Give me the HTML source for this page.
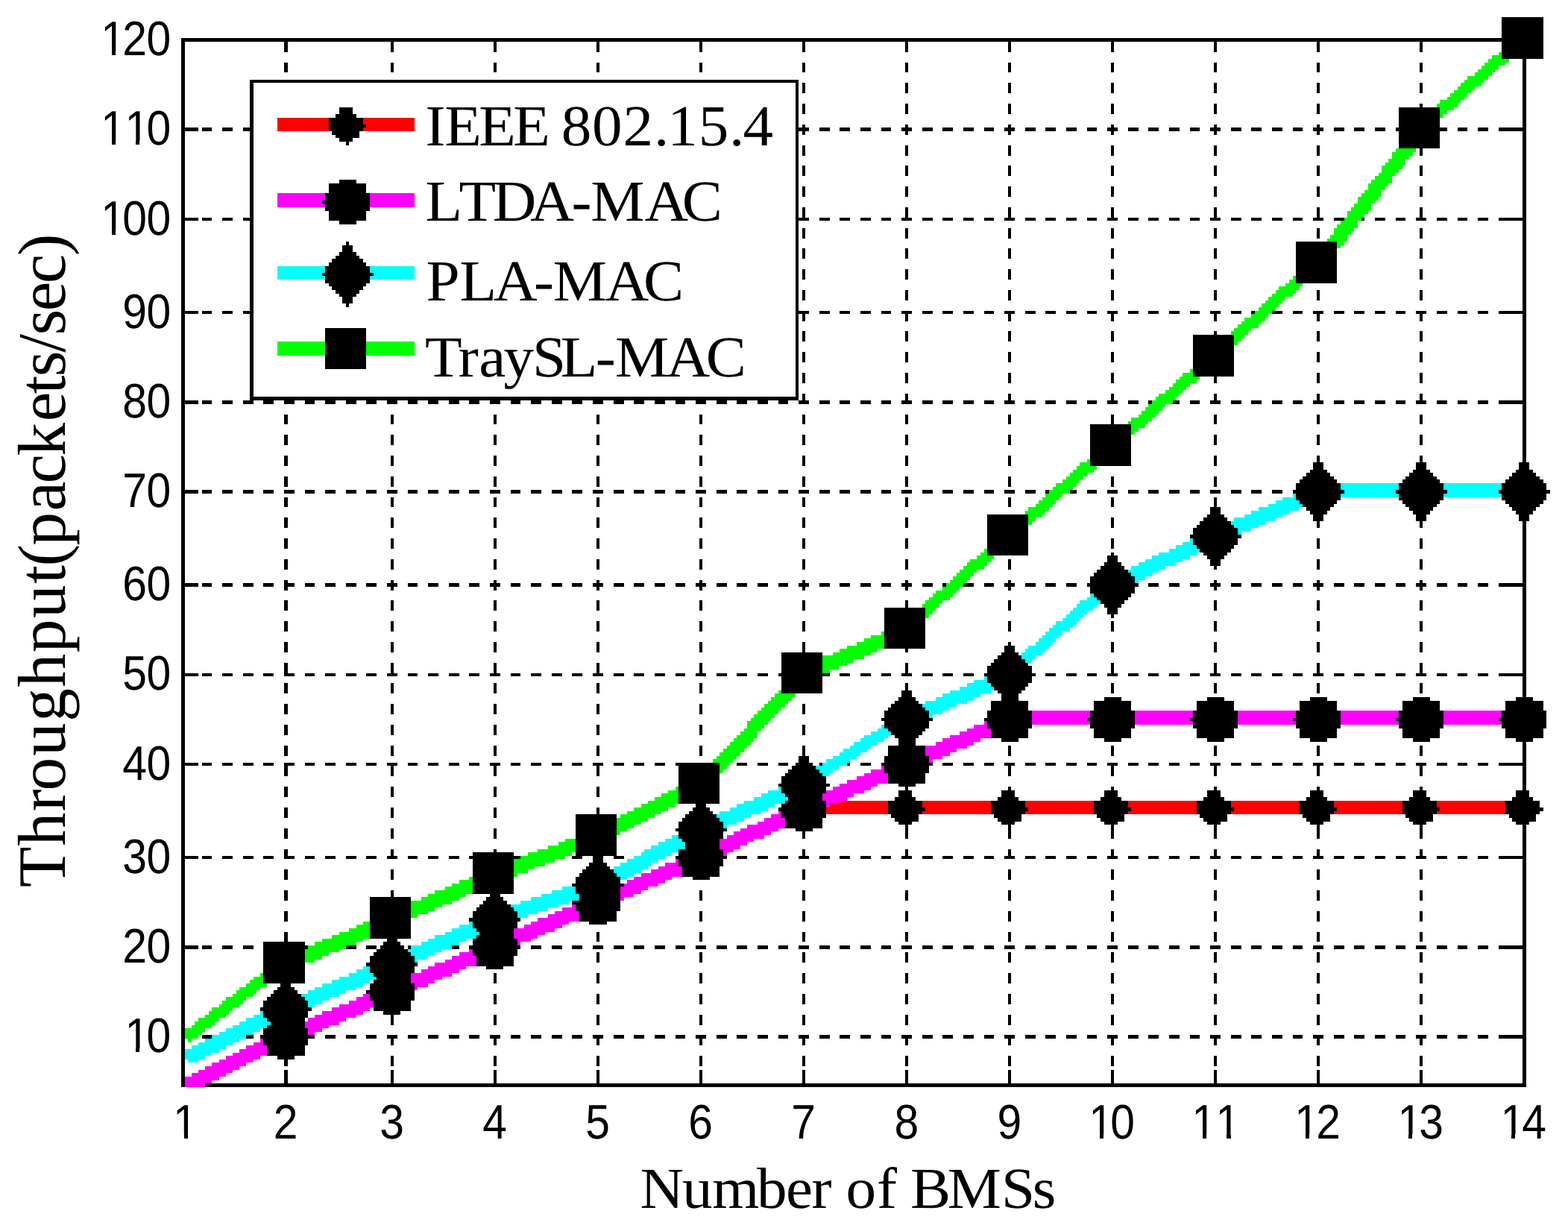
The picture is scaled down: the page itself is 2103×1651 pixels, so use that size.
<!DOCTYPE html>
<html lang="en">
<head>
<meta charset="utf-8">
<title>Throughput vs Number of BMSs</title>
<style>
html,body{margin:0;padding:0;background:#fff;}
body{width:2103px;height:1651px;overflow:hidden;}
svg{display:block;}
text{fill:#000;font-kerning:none;font-variant-ligatures:none;text-rendering:geometricPrecision;}
</style>
</head>
<body>
<svg width="2103" height="1651" viewBox="0 0 2103 1651">
<rect width="2103" height="1651" fill="#fff"/>
<g transform="matrix(4.6008 0 0 4.627 -0.84 0.29)" shape-rendering="crispEdges">
<path fill="#000" d="M438 5h12v6h-12zM53 11h397v1h-397zM53 12h1v25h-1zM83 12h1v3h-1zM114 12h1v3h-1zM144 12h1v3h-1zM174 12h1v3h-1zM204 12h1v3h-1zM234 12h1v3h-1zM264 12h1v3h-1zM294 12h1v3h-1zM324 12h1v3h-1zM354 12h1v3h-1zM384 12h1v3h-1zM414 12h1v3h-1zM438 12h12v5h-12zM444 17h1v20h-1zM83 18h1v3h-1zM114 18h1v3h-1zM144 18h1v3h-1zM174 18h1v3h-1zM204 18h1v3h-1zM234 18h1v3h-1zM264 18h1v3h-1zM294 18h1v3h-1zM324 18h1v3h-1zM354 18h1v3h-1zM384 18h1v3h-1zM414 18h1v3h-1zM73 23h160v1h-160zM73 24h1v13h-1zM232 24h1v13h-1zM234 24h1v3h-1zM264 24h1v3h-1zM294 24h1v3h-1zM324 24h1v3h-1zM354 24h1v3h-1zM384 24h1v3h-1zM414 24h1v3h-1zM234 30h1v3h-1zM264 30h1v3h-1zM294 30h1v3h-1zM324 30h1v3h-1zM354 30h1v3h-1zM384 30h1v3h-1zM414 30h1v1h-1zM99 31h4v2h-4zM408 31h12v6h-12zM98 33h6v1h-6zM96 34h10v2h-10zM96 36h11v1h-11zM234 36h1v1h-1zM264 36h1v1h-1zM294 36h1v1h-1zM324 36h1v1h-1zM354 36h1v1h-1zM384 36h1v1h-1zM53 37h5v1h-5zM59 37h3v1h-3zM65 37h3v1h-3zM71 37h3v1h-3zM96 37h10v1h-10zM232 37h4v1h-4zM239 37h3v1h-3zM245 37h3v1h-3zM251 37h3v1h-3zM257 37h3v1h-3zM263 37h3v1h-3zM269 37h3v1h-3zM275 37h3v1h-3zM281 37h3v1h-3zM287 37h3v1h-3zM293 37h3v1h-3zM299 37h3v1h-3zM305 37h3v1h-3zM311 37h3v1h-3zM317 37h3v1h-3zM323 37h3v1h-3zM329 37h3v1h-3zM335 37h3v1h-3zM341 37h3v1h-3zM347 37h3v1h-3zM353 37h3v1h-3zM359 37h3v1h-3zM365 37h3v1h-3zM371 37h3v1h-3zM377 37h3v1h-3zM383 37h3v1h-3zM389 37h3v1h-3zM395 37h3v1h-3zM401 37h3v1h-3zM407 37h15v1h-15zM425 37h3v1h-3zM431 37h3v1h-3zM437 37h8v1h-8zM53 38h1v25h-1zM73 38h1v25h-1zM97 38h8v1h-8zM232 38h1v25h-1zM234 38h1v1h-1zM264 38h1v1h-1zM294 38h1v1h-1zM324 38h1v1h-1zM354 38h1v1h-1zM384 38h1v1h-1zM408 38h12v5h-12zM444 38h1v25h-1zM98 39h7v1h-7zM99 40h4v1h-4zM101 41h1v1h-1zM234 42h1v3h-1zM264 42h1v3h-1zM294 42h1v3h-1zM324 42h1v3h-1zM354 42h1v3h-1zM384 42h1v3h-1zM414 43h1v2h-1zM234 48h1v3h-1zM264 48h1v3h-1zM294 48h1v3h-1zM324 48h1v3h-1zM354 48h1v3h-1zM384 48h1v3h-1zM414 48h1v3h-1zM99 52h5v1h-5zM96 53h11v3h-11zM234 54h1v3h-1zM264 54h1v3h-1zM294 54h1v3h-1zM324 54h1v3h-1zM354 54h1v3h-1zM384 54h1v3h-1zM414 54h1v3h-1zM95 56h13v2h-13zM94 58h14v1h-14zM95 59h13v2h-13zM234 60h1v3h-1zM264 60h1v3h-1zM294 60h1v3h-1zM324 60h1v3h-1zM354 60h1v3h-1zM384 60h1v3h-1zM414 60h1v3h-1zM96 61h11v3h-11zM53 63h5v1h-5zM59 63h3v1h-3zM65 63h3v1h-3zM71 63h3v1h-3zM232 63h4v1h-4zM239 63h3v1h-3zM245 63h3v1h-3zM251 63h3v1h-3zM257 63h3v1h-3zM263 63h3v1h-3zM269 63h3v1h-3zM275 63h3v1h-3zM281 63h3v1h-3zM287 63h3v1h-3zM293 63h3v1h-3zM299 63h3v1h-3zM305 63h3v1h-3zM311 63h3v1h-3zM317 63h3v1h-3zM323 63h3v1h-3zM329 63h3v1h-3zM335 63h3v1h-3zM341 63h3v1h-3zM347 63h3v1h-3zM353 63h3v1h-3zM359 63h3v1h-3zM365 63h3v1h-3zM371 63h3v1h-3zM377 63h3v1h-3zM383 63h3v1h-3zM389 63h3v1h-3zM397 63h1v1h-1zM401 63h3v1h-3zM407 63h3v1h-3zM413 63h3v1h-3zM419 63h3v1h-3zM425 63h3v1h-3zM431 63h3v1h-3zM437 63h8v1h-8zM53 64h1v26h-1zM73 64h1v26h-1zM99 64h5v1h-5zM232 64h1v26h-1zM444 64h1v26h-1zM234 66h1v3h-1zM264 66h1v3h-1zM294 66h1v3h-1zM324 66h1v3h-1zM354 66h1v3h-1zM384 66h1v3h-1zM414 66h1v3h-1zM101 70h1v1h-1zM378 70h12v12h-12zM100 71h3v2h-3zM234 72h1v3h-1zM264 72h1v3h-1zM294 72h1v3h-1zM324 72h1v3h-1zM354 72h1v3h-1zM414 72h1v3h-1zM99 73h5v1h-5zM98 74h7v1h-7zM97 75h9v1h-9zM96 76h11v1h-11zM95 77h13v2h-13zM234 78h1v3h-1zM264 78h1v3h-1zM294 78h1v3h-1zM324 78h1v3h-1zM354 78h1v3h-1zM414 78h1v3h-1zM94 79h15v1h-15zM95 80h13v2h-13zM96 82h11v1h-11zM97 83h9v1h-9zM98 84h7v1h-7zM234 84h1v3h-1zM264 84h1v3h-1zM294 84h1v3h-1zM324 84h1v3h-1zM354 84h1v3h-1zM384 84h1v3h-1zM414 84h1v3h-1zM99 85h5v1h-5zM100 86h3v2h-3zM101 88h1v1h-1zM53 90h5v1h-5zM59 90h3v1h-3zM65 90h3v1h-3zM71 90h3v1h-3zM232 90h4v1h-4zM239 90h3v1h-3zM245 90h3v1h-3zM251 90h3v1h-3zM257 90h3v1h-3zM263 90h3v1h-3zM269 90h3v1h-3zM275 90h3v1h-3zM281 90h3v1h-3zM287 90h3v1h-3zM293 90h3v1h-3zM299 90h3v1h-3zM305 90h3v1h-3zM311 90h3v1h-3zM317 90h3v1h-3zM323 90h3v1h-3zM329 90h3v1h-3zM335 90h3v1h-3zM341 90h3v1h-3zM347 90h3v1h-3zM353 90h3v1h-3zM359 90h3v1h-3zM365 90h1v1h-1zM371 90h3v1h-3zM377 90h3v1h-3zM383 90h3v1h-3zM389 90h3v1h-3zM395 90h3v1h-3zM401 90h3v1h-3zM407 90h3v1h-3zM413 90h3v1h-3zM419 90h3v1h-3zM425 90h3v1h-3zM431 90h3v1h-3zM437 90h8v1h-8zM53 91h1v25h-1zM73 91h1v24h-1zM232 91h1v24h-1zM234 91h1v2h-1zM264 91h1v2h-1zM294 91h1v2h-1zM324 91h1v2h-1zM354 91h1v2h-1zM384 91h1v2h-1zM414 91h1v2h-1zM444 91h1v25h-1zM95 95h12v12h-12zM234 96h1v3h-1zM264 96h1v3h-1zM294 96h1v3h-1zM324 96h1v3h-1zM354 96h1v1h-1zM384 96h1v3h-1zM414 96h1v3h-1zM348 97h12v12h-12zM234 102h1v3h-1zM264 102h1v3h-1zM294 102h1v3h-1zM324 102h1v3h-1zM384 102h1v3h-1zM414 102h1v3h-1zM234 108h1v3h-1zM264 108h1v3h-1zM294 108h1v3h-1zM324 108h1v3h-1zM384 108h1v3h-1zM414 108h1v3h-1zM354 109h1v2h-1zM234 114h1v2h-1zM264 114h1v2h-1zM294 114h1v2h-1zM324 114h1v2h-1zM354 114h1v2h-1zM384 114h1v2h-1zM414 114h1v2h-1zM73 115h160v1h-160zM53 116h5v1h-5zM59 116h3v1h-3zM65 116h3v1h-3zM71 116h3v1h-3zM77 116h3v1h-3zM83 116h3v1h-3zM89 116h3v1h-3zM95 116h3v1h-3zM101 116h3v1h-3zM107 116h3v1h-3zM113 116h3v1h-3zM119 116h3v1h-3zM125 116h3v1h-3zM131 116h3v1h-3zM137 116h3v1h-3zM143 116h3v1h-3zM149 116h3v1h-3zM155 116h3v1h-3zM161 116h3v1h-3zM167 116h3v1h-3zM173 116h3v1h-3zM179 116h3v1h-3zM185 116h3v1h-3zM191 116h3v1h-3zM197 116h3v1h-3zM203 116h3v1h-3zM209 116h3v1h-3zM215 116h3v1h-3zM221 116h3v1h-3zM227 116h3v1h-3zM233 116h3v1h-3zM239 116h3v1h-3zM245 116h3v1h-3zM251 116h3v1h-3zM257 116h3v1h-3zM263 116h3v1h-3zM269 116h3v1h-3zM275 116h3v1h-3zM281 116h3v1h-3zM287 116h3v1h-3zM293 116h3v1h-3zM299 116h3v1h-3zM305 116h3v1h-3zM311 116h3v1h-3zM317 116h3v1h-3zM323 116h3v1h-3zM329 116h3v1h-3zM335 116h1v1h-1zM342 116h2v1h-2zM347 116h3v1h-3zM353 116h3v1h-3zM359 116h3v1h-3zM365 116h3v1h-3zM371 116h3v1h-3zM377 116h3v1h-3zM383 116h3v1h-3zM389 116h3v1h-3zM395 116h3v1h-3zM401 116h3v1h-3zM407 116h3v1h-3zM413 116h3v1h-3zM419 116h3v1h-3zM425 116h3v1h-3zM431 116h3v1h-3zM437 116h8v1h-8zM53 117h1v25h-1zM444 117h1v17h-1zM83 120h1v3h-1zM114 120h1v3h-1zM144 120h1v3h-1zM174 120h1v3h-1zM204 120h1v3h-1zM234 120h1v3h-1zM264 120h1v3h-1zM294 120h1v3h-1zM324 120h1v3h-1zM354 120h1v3h-1zM384 120h1v3h-1zM414 120h1v3h-1zM318 123h12v12h-12zM83 126h1v3h-1zM114 126h1v3h-1zM144 126h1v3h-1zM174 126h1v3h-1zM204 126h1v3h-1zM234 126h1v3h-1zM264 126h1v3h-1zM294 126h1v3h-1zM354 126h1v3h-1zM384 126h1v3h-1zM414 126h1v3h-1zM83 132h1v3h-1zM114 132h1v3h-1zM144 132h1v3h-1zM174 132h1v3h-1zM204 132h1v3h-1zM234 132h1v3h-1zM264 132h1v3h-1zM294 132h1v3h-1zM354 132h1v3h-1zM384 132h1v2h-1zM414 132h1v2h-1zM383 134h3v2h-3zM413 134h3v2h-3zM443 134h3v2h-3zM382 136h5v1h-5zM412 136h5v1h-5zM442 136h5v1h-5zM381 137h7v1h-7zM411 137h7v1h-7zM441 137h7v1h-7zM83 138h1v3h-1zM114 138h1v3h-1zM144 138h1v3h-1zM174 138h1v3h-1zM204 138h1v3h-1zM234 138h1v3h-1zM264 138h1v3h-1zM294 138h1v3h-1zM324 138h1v3h-1zM354 138h1v3h-1zM380 138h9v1h-9zM410 138h9v1h-9zM440 138h9v1h-9zM379 139h11v1h-11zM409 139h11v1h-11zM439 139h11v1h-11zM378 140h13v2h-13zM408 140h13v2h-13zM438 140h13v2h-13zM53 142h5v1h-5zM59 142h3v1h-3zM65 142h3v1h-3zM71 142h3v1h-3zM77 142h3v1h-3zM83 142h3v1h-3zM89 142h3v1h-3zM95 142h3v1h-3zM101 142h3v1h-3zM107 142h3v1h-3zM113 142h3v1h-3zM119 142h3v1h-3zM125 142h3v1h-3zM131 142h3v1h-3zM137 142h3v1h-3zM143 142h3v1h-3zM149 142h3v1h-3zM155 142h3v1h-3zM161 142h3v1h-3zM167 142h3v1h-3zM173 142h3v1h-3zM179 142h3v1h-3zM185 142h3v1h-3zM191 142h3v1h-3zM197 142h3v1h-3zM203 142h3v1h-3zM209 142h3v1h-3zM215 142h3v1h-3zM221 142h3v1h-3zM227 142h3v1h-3zM233 142h3v1h-3zM239 142h3v1h-3zM245 142h3v1h-3zM251 142h3v1h-3zM257 142h3v1h-3zM263 142h3v1h-3zM269 142h3v1h-3zM275 142h3v1h-3zM281 142h3v1h-3zM287 142h3v1h-3zM293 142h3v1h-3zM299 142h3v1h-3zM305 142h1v1h-1zM312 142h2v1h-2zM317 142h3v1h-3zM323 142h3v1h-3zM329 142h3v1h-3zM335 142h3v1h-3zM341 142h3v1h-3zM347 142h3v1h-3zM353 142h3v1h-3zM359 142h3v1h-3zM365 142h3v1h-3zM371 142h3v1h-3zM377 142h15v1h-15zM407 142h15v1h-15zM437 142h15v1h-15zM53 143h1v26h-1zM378 143h13v2h-13zM408 143h13v2h-13zM438 143h13v2h-13zM83 144h1v3h-1zM114 144h1v3h-1zM144 144h1v3h-1zM174 144h1v3h-1zM204 144h1v3h-1zM234 144h1v3h-1zM264 144h1v3h-1zM294 144h1v3h-1zM324 144h1v3h-1zM354 144h1v3h-1zM379 145h11v1h-11zM409 145h11v1h-11zM439 145h11v1h-11zM380 146h9v1h-9zM410 146h9v1h-9zM440 146h9v1h-9zM353 147h3v2h-3zM381 147h7v1h-7zM411 147h7v1h-7zM441 147h7v1h-7zM382 148h5v1h-5zM412 148h5v1h-5zM442 148h5v1h-5zM288 149h12v12h-12zM352 149h5v1h-5zM383 149h3v2h-3zM413 149h3v2h-3zM443 149h3v2h-3zM83 150h1v3h-1zM114 150h1v3h-1zM144 150h1v3h-1zM174 150h1v3h-1zM204 150h1v3h-1zM234 150h1v3h-1zM264 150h1v3h-1zM324 150h1v3h-1zM351 150h7v1h-7zM350 151h9v1h-9zM384 151h1v2h-1zM414 151h1v2h-1zM444 151h1v18h-1zM349 152h11v1h-11zM348 153h13v2h-13zM347 155h15v1h-15zM83 156h1v3h-1zM114 156h1v3h-1zM144 156h1v3h-1zM174 156h1v3h-1zM204 156h1v3h-1zM234 156h1v3h-1zM264 156h1v3h-1zM324 156h1v3h-1zM348 156h13v2h-13zM384 156h1v3h-1zM414 156h1v3h-1zM349 158h11v1h-11zM350 159h9v1h-9zM324 160h1v1h-1zM351 160h7v1h-7zM323 161h3v2h-3zM352 161h5v1h-5zM83 162h1v3h-1zM114 162h1v3h-1zM144 162h1v3h-1zM174 162h1v3h-1zM204 162h1v3h-1zM234 162h1v3h-1zM264 162h1v3h-1zM294 162h1v3h-1zM353 162h3v2h-3zM384 162h1v3h-1zM414 162h1v3h-1zM322 163h5v1h-5zM321 164h7v1h-7zM354 164h1v1h-1zM320 165h9v1h-9zM319 166h11v1h-11zM318 167h13v2h-13zM83 168h1v1h-1zM114 168h1v1h-1zM144 168h1v1h-1zM174 168h1v1h-1zM204 168h1v1h-1zM234 168h1v1h-1zM264 168h1v1h-1zM294 168h1v1h-1zM354 168h1v1h-1zM384 168h1v1h-1zM414 168h1v1h-1zM53 169h5v1h-5zM59 169h3v1h-3zM65 169h3v1h-3zM71 169h3v1h-3zM77 169h3v1h-3zM83 169h3v1h-3zM89 169h3v1h-3zM95 169h3v1h-3zM101 169h3v1h-3zM107 169h3v1h-3zM113 169h3v1h-3zM119 169h3v1h-3zM125 169h3v1h-3zM131 169h3v1h-3zM137 169h3v1h-3zM143 169h3v1h-3zM149 169h3v1h-3zM155 169h3v1h-3zM161 169h3v1h-3zM167 169h3v1h-3zM173 169h3v1h-3zM179 169h3v1h-3zM185 169h3v1h-3zM191 169h3v1h-3zM197 169h3v1h-3zM203 169h3v1h-3zM209 169h3v1h-3zM215 169h3v1h-3zM221 169h3v1h-3zM227 169h3v1h-3zM233 169h3v1h-3zM239 169h3v1h-3zM245 169h3v1h-3zM251 169h3v1h-3zM257 169h3v1h-3zM263 169h3v1h-3zM269 169h3v1h-3zM275 169h1v1h-1zM281 169h3v1h-3zM287 169h3v1h-3zM293 169h3v1h-3zM299 169h3v1h-3zM305 169h3v1h-3zM311 169h3v1h-3zM317 169h15v1h-15zM335 169h3v1h-3zM341 169h3v1h-3zM347 169h3v1h-3zM353 169h3v1h-3zM359 169h3v1h-3zM365 169h3v1h-3zM371 169h3v1h-3zM377 169h3v1h-3zM383 169h3v1h-3zM389 169h3v1h-3zM395 169h3v1h-3zM401 169h3v1h-3zM407 169h3v1h-3zM413 169h3v1h-3zM419 169h3v1h-3zM425 169h3v1h-3zM431 169h3v1h-3zM437 169h8v1h-8zM53 170h1v25h-1zM83 170h1v1h-1zM114 170h1v1h-1zM144 170h1v1h-1zM174 170h1v1h-1zM204 170h1v1h-1zM234 170h1v1h-1zM264 170h1v1h-1zM294 170h1v1h-1zM318 170h13v2h-13zM354 170h1v1h-1zM384 170h1v1h-1zM414 170h1v1h-1zM444 170h1v25h-1zM319 172h11v1h-11zM320 173h9v1h-9zM83 174h1v3h-1zM114 174h1v3h-1zM144 174h1v3h-1zM174 174h1v3h-1zM204 174h1v3h-1zM234 174h1v3h-1zM264 174h1v2h-1zM294 174h1v3h-1zM321 174h7v1h-7zM354 174h1v3h-1zM384 174h1v3h-1zM414 174h1v3h-1zM322 175h5v1h-5zM258 176h12v12h-12zM323 176h3v2h-3zM324 178h1v1h-1zM83 180h1v3h-1zM114 180h1v3h-1zM144 180h1v3h-1zM174 180h1v3h-1zM204 180h1v3h-1zM234 180h1v3h-1zM294 180h1v3h-1zM324 180h1v3h-1zM354 180h1v3h-1zM384 180h1v3h-1zM414 180h1v3h-1zM83 186h1v3h-1zM114 186h1v3h-1zM144 186h1v3h-1zM174 186h1v3h-1zM204 186h1v3h-1zM234 186h1v3h-1zM294 186h1v1h-1zM324 186h1v3h-1zM354 186h1v3h-1zM384 186h1v3h-1zM414 186h1v3h-1zM293 187h3v2h-3zM264 188h1v1h-1zM228 189h12v6h-12zM292 189h5v1h-5zM291 190h7v1h-7zM290 191h9v1h-9zM83 192h1v3h-1zM114 192h1v3h-1zM144 192h1v3h-1zM174 192h1v3h-1zM204 192h1v3h-1zM264 192h1v3h-1zM289 192h11v1h-11zM324 192h1v3h-1zM354 192h1v3h-1zM384 192h1v3h-1zM414 192h1v3h-1zM288 193h13v2h-13zM53 195h5v1h-5zM59 195h3v1h-3zM65 195h3v1h-3zM71 195h3v1h-3zM77 195h3v1h-3zM83 195h3v1h-3zM89 195h3v1h-3zM95 195h3v1h-3zM101 195h3v1h-3zM107 195h3v1h-3zM113 195h3v1h-3zM119 195h3v1h-3zM125 195h3v1h-3zM131 195h3v1h-3zM137 195h3v1h-3zM143 195h3v1h-3zM149 195h3v1h-3zM155 195h3v1h-3zM161 195h3v1h-3zM167 195h3v1h-3zM173 195h3v1h-3zM179 195h3v1h-3zM185 195h3v1h-3zM191 195h3v1h-3zM197 195h3v1h-3zM203 195h3v1h-3zM209 195h3v1h-3zM215 195h3v1h-3zM221 195h3v1h-3zM227 195h15v1h-15zM245 195h3v1h-3zM251 195h3v1h-3zM257 195h3v1h-3zM263 195h3v1h-3zM269 195h3v1h-3zM275 195h3v1h-3zM281 195h3v1h-3zM287 195h15v1h-15zM305 195h3v1h-3zM311 195h3v1h-3zM317 195h3v1h-3zM323 195h3v1h-3zM329 195h3v1h-3zM335 195h3v1h-3zM341 195h3v1h-3zM347 195h3v1h-3zM353 195h3v1h-3zM359 195h3v1h-3zM365 195h3v1h-3zM371 195h3v1h-3zM377 195h3v1h-3zM383 195h3v1h-3zM389 195h3v1h-3zM395 195h3v1h-3zM401 195h3v1h-3zM407 195h3v1h-3zM413 195h3v1h-3zM419 195h3v1h-3zM425 195h3v1h-3zM431 195h3v1h-3zM437 195h8v1h-8zM53 196h1v25h-1zM228 196h12v5h-12zM288 196h13v2h-13zM444 196h1v6h-1zM83 198h1v3h-1zM114 198h1v3h-1zM144 198h1v3h-1zM174 198h1v3h-1zM204 198h1v3h-1zM264 198h1v2h-1zM289 198h11v1h-11zM324 198h1v3h-1zM354 198h1v3h-1zM384 198h1v3h-1zM414 198h1v3h-1zM290 199h9v1h-9zM263 200h3v2h-3zM291 200h7v1h-7zM292 201h5v2h-5zM262 202h5v1h-5zM322 202h5v1h-5zM352 202h5v1h-5zM382 202h5v1h-5zM412 202h5v1h-5zM442 202h5v1h-5zM261 203h7v1h-7zM289 203h11v3h-11zM319 203h11v3h-11zM349 203h11v3h-11zM379 203h11v3h-11zM409 203h11v3h-11zM439 203h11v3h-11zM83 204h1v3h-1zM114 204h1v3h-1zM144 204h1v3h-1zM174 204h1v3h-1zM204 204h1v3h-1zM234 204h1v3h-1zM260 204h9v1h-9zM259 205h11v1h-11zM258 206h13v2h-13zM288 206h13v2h-13zM318 206h13v2h-13zM348 206h13v2h-13zM378 206h13v2h-13zM408 206h13v2h-13zM438 206h13v2h-13zM257 208h15v1h-15zM287 208h14v1h-14zM317 208h14v1h-14zM347 208h14v1h-14zM377 208h14v1h-14zM407 208h14v1h-14zM437 208h14v1h-14zM258 209h13v2h-13zM288 209h13v2h-13zM318 209h13v2h-13zM348 209h13v2h-13zM378 209h13v2h-13zM408 209h13v2h-13zM438 209h13v2h-13zM83 210h1v3h-1zM114 210h1v3h-1zM144 210h1v3h-1zM174 210h1v3h-1zM204 210h1v3h-1zM234 210h1v3h-1zM259 211h11v1h-11zM289 211h11v3h-11zM319 211h11v3h-11zM349 211h11v3h-11zM379 211h11v3h-11zM409 211h11v3h-11zM439 211h11v3h-11zM260 212h9v1h-9zM261 213h7v1h-7zM262 214h5v2h-5zM292 214h5v1h-5zM322 214h5v1h-5zM352 214h5v1h-5zM382 214h5v1h-5zM412 214h5v1h-5zM442 214h5v1h-5zM444 215h1v6h-1zM83 216h1v3h-1zM114 216h1v3h-1zM144 216h1v3h-1zM174 216h1v3h-1zM204 216h1v3h-1zM234 216h1v3h-1zM259 216h11v3h-11zM294 216h1v3h-1zM324 216h1v3h-1zM354 216h1v3h-1zM384 216h1v3h-1zM414 216h1v3h-1zM233 219h3v2h-3zM258 219h13v2h-13zM53 221h5v1h-5zM59 221h3v1h-3zM65 221h3v1h-3zM71 221h3v1h-3zM77 221h3v1h-3zM83 221h3v1h-3zM89 221h3v1h-3zM95 221h3v1h-3zM101 221h3v1h-3zM107 221h3v1h-3zM113 221h3v1h-3zM119 221h3v1h-3zM125 221h3v1h-3zM131 221h3v1h-3zM137 221h3v1h-3zM143 221h3v1h-3zM149 221h3v1h-3zM155 221h3v1h-3zM161 221h3v1h-3zM167 221h3v1h-3zM173 221h3v1h-3zM179 221h3v1h-3zM185 221h3v1h-3zM191 221h3v1h-3zM197 221h13v1h-13zM215 221h3v1h-3zM221 221h3v1h-3zM227 221h3v1h-3zM232 221h5v1h-5zM239 221h1v1h-1zM247 221h1v1h-1zM251 221h3v1h-3zM257 221h15v1h-15zM275 221h3v1h-3zM281 221h3v1h-3zM287 221h3v1h-3zM293 221h3v1h-3zM299 221h3v1h-3zM305 221h3v1h-3zM311 221h3v1h-3zM317 221h3v1h-3zM323 221h3v1h-3zM329 221h3v1h-3zM335 221h3v1h-3zM341 221h3v1h-3zM347 221h3v1h-3zM353 221h3v1h-3zM359 221h3v1h-3zM365 221h3v1h-3zM371 221h3v1h-3zM377 221h3v1h-3zM383 221h3v1h-3zM389 221h3v1h-3zM395 221h3v1h-3zM401 221h3v1h-3zM407 221h3v1h-3zM413 221h3v1h-3zM419 221h3v1h-3zM425 221h3v1h-3zM431 221h3v1h-3zM437 221h8v1h-8zM53 222h1v26h-1zM83 222h1v3h-1zM114 222h1v3h-1zM144 222h1v3h-1zM174 222h1v3h-1zM198 222h12v11h-12zM231 222h7v1h-7zM258 222h13v2h-13zM294 222h1v3h-1zM324 222h1v3h-1zM354 222h1v3h-1zM384 222h1v3h-1zM414 222h1v3h-1zM444 222h1v7h-1zM230 223h9v1h-9zM229 224h11v1h-11zM259 224h11v3h-11zM228 225h13v2h-13zM227 227h15v1h-15zM262 227h5v1h-5zM83 228h1v3h-1zM114 228h1v3h-1zM144 228h1v3h-1zM174 228h1v3h-1zM228 228h13v2h-13zM264 228h1v1h-1zM294 228h1v1h-1zM324 228h1v1h-1zM354 228h1v1h-1zM384 228h1v1h-1zM414 228h1v1h-1zM262 229h4v2h-4zM292 229h4v2h-4zM322 229h4v2h-4zM352 229h4v2h-4zM382 229h4v2h-4zM412 229h4v2h-4zM442 229h4v2h-4zM229 230h11v1h-11zM230 231h10v1h-10zM261 231h6v1h-6zM291 231h6v1h-6zM321 231h6v1h-6zM351 231h6v1h-6zM381 231h6v1h-6zM411 231h6v1h-6zM441 231h6v1h-6zM229 232h12v1h-12zM259 232h10v2h-10zM289 232h10v2h-10zM319 232h10v2h-10zM349 232h10v2h-10zM379 232h10v2h-10zM409 232h10v2h-10zM439 232h10v2h-10zM203 233h3v1h-3zM228 233h13v1h-13zM83 234h1v3h-1zM114 234h1v3h-1zM144 234h1v3h-1zM174 234h1v2h-1zM202 234h5v1h-5zM227 234h14v1h-14zM259 234h11v1h-11zM289 234h11v1h-11zM319 234h11v1h-11zM349 234h11v1h-11zM379 234h11v1h-11zM409 234h11v1h-11zM439 234h11v1h-11zM201 235h7v1h-7zM228 235h13v2h-13zM259 235h10v1h-10zM289 235h10v1h-10zM319 235h10v1h-10zM349 235h10v1h-10zM379 235h10v1h-10zM409 235h10v1h-10zM439 235h10v1h-10zM168 236h12v12h-12zM200 236h9v1h-9zM260 236h8v1h-8zM290 236h8v1h-8zM320 236h8v1h-8zM350 236h8v1h-8zM380 236h8v1h-8zM410 236h8v1h-8zM440 236h8v1h-8zM199 237h11v1h-11zM229 237h11v3h-11zM261 237h7v1h-7zM291 237h7v1h-7zM321 237h7v1h-7zM351 237h7v1h-7zM381 237h7v1h-7zM411 237h7v1h-7zM441 237h7v1h-7zM198 238h13v2h-13zM262 238h4v1h-4zM292 238h4v1h-4zM322 238h4v1h-4zM352 238h4v1h-4zM382 238h4v1h-4zM412 238h4v1h-4zM442 238h4v1h-4zM264 239h1v4h-1zM294 239h1v4h-1zM324 239h1v4h-1zM354 239h1v4h-1zM384 239h1v4h-1zM414 239h1v4h-1zM444 239h1v9h-1zM83 240h1v3h-1zM114 240h1v3h-1zM144 240h1v3h-1zM197 240h15v1h-15zM232 240h5v1h-5zM198 241h13v2h-13zM234 241h1v2h-1zM199 243h11v1h-11zM200 244h10v2h-10zM83 246h1v2h-1zM114 246h1v2h-1zM144 246h1v1h-1zM198 246h13v2h-13zM234 246h1v2h-1zM264 246h1v2h-1zM294 246h1v2h-1zM324 246h1v2h-1zM354 246h1v2h-1zM384 246h1v2h-1zM414 246h1v2h-1zM138 247h12v1h-12zM53 248h5v1h-5zM59 248h3v1h-3zM65 248h3v1h-3zM71 248h3v1h-3zM77 248h3v1h-3zM83 248h3v1h-3zM89 248h3v1h-3zM95 248h3v1h-3zM101 248h3v1h-3zM107 248h3v1h-3zM113 248h3v1h-3zM119 248h3v1h-3zM125 248h3v1h-3zM131 248h3v1h-3zM137 248h15v1h-15zM167 248h3v1h-3zM173 248h3v2h-3zM179 248h3v1h-3zM197 248h15v1h-15zM215 248h3v1h-3zM221 248h3v1h-3zM227 248h3v1h-3zM233 248h3v1h-3zM239 248h3v1h-3zM245 248h3v1h-3zM251 248h3v1h-3zM257 248h3v1h-3zM263 248h3v1h-3zM269 248h3v1h-3zM275 248h3v1h-3zM281 248h3v1h-3zM287 248h3v1h-3zM293 248h3v1h-3zM299 248h3v1h-3zM305 248h3v1h-3zM311 248h3v1h-3zM317 248h3v1h-3zM323 248h3v1h-3zM329 248h3v1h-3zM335 248h3v1h-3zM341 248h3v1h-3zM347 248h3v1h-3zM353 248h3v1h-3zM359 248h3v1h-3zM365 248h3v1h-3zM371 248h3v1h-3zM377 248h3v1h-3zM383 248h3v1h-3zM389 248h3v1h-3zM395 248h3v1h-3zM401 248h3v1h-3zM407 248h3v1h-3zM413 248h3v1h-3zM419 248h3v1h-3zM425 248h3v1h-3zM431 248h3v1h-3zM437 248h8v1h-8zM53 249h1v25h-1zM138 249h12v10h-12zM198 249h13v2h-13zM444 249h1v25h-1zM172 250h5v1h-5zM171 251h7v1h-7zM199 251h11v3h-11zM83 252h1v3h-1zM114 252h1v3h-1zM170 252h9v1h-9zM234 252h1v3h-1zM264 252h1v3h-1zM294 252h1v3h-1zM324 252h1v3h-1zM354 252h1v3h-1zM384 252h1v3h-1zM414 252h1v3h-1zM169 253h11v1h-11zM168 254h13v2h-13zM202 254h5v1h-5zM167 256h15v1h-15zM168 257h13v2h-13zM83 258h1v3h-1zM114 258h1v2h-1zM204 258h1v3h-1zM234 258h1v3h-1zM264 258h1v3h-1zM294 258h1v3h-1zM324 258h1v3h-1zM354 258h1v3h-1zM384 258h1v3h-1zM414 258h1v3h-1zM143 259h3v1h-3zM169 259h12v2h-12zM108 260h12v12h-12zM142 260h5v1h-5zM141 261h7v1h-7zM167 261h14v1h-14zM140 262h9v1h-9zM168 262h13v2h-13zM139 263h11v1h-11zM83 264h1v3h-1zM138 264h13v2h-13zM169 264h11v3h-11zM204 264h1v3h-1zM234 264h1v3h-1zM264 264h1v3h-1zM294 264h1v3h-1zM324 264h1v3h-1zM354 264h1v3h-1zM384 264h1v3h-1zM414 264h1v3h-1zM137 266h15v1h-15zM138 267h13v2h-13zM172 267h5v1h-5zM139 269h11v1h-11zM83 270h1v3h-1zM140 270h10v1h-10zM174 270h1v3h-1zM204 270h1v3h-1zM234 270h1v3h-1zM264 270h1v3h-1zM294 270h1v3h-1zM324 270h1v3h-1zM354 270h1v3h-1zM384 270h1v3h-1zM414 270h1v3h-1zM139 271h11v1h-11zM113 272h3v1h-3zM138 272h13v2h-13zM77 273h12v1h-12zM112 273h5v1h-5zM53 274h5v1h-5zM59 274h3v1h-3zM65 274h3v1h-3zM71 274h3v1h-3zM77 274h13v1h-13zM101 274h3v1h-3zM107 274h3v1h-3zM111 274h7v1h-7zM119 274h1v1h-1zM132 274h2v1h-2zM137 274h15v1h-15zM155 274h3v1h-3zM161 274h3v1h-3zM167 274h3v1h-3zM173 274h3v1h-3zM179 274h3v1h-3zM185 274h3v1h-3zM191 274h3v1h-3zM197 274h3v1h-3zM203 274h3v1h-3zM209 274h3v1h-3zM215 274h3v1h-3zM221 274h3v1h-3zM227 274h3v1h-3zM233 274h3v1h-3zM239 274h3v1h-3zM245 274h3v1h-3zM251 274h3v1h-3zM257 274h3v1h-3zM263 274h3v1h-3zM269 274h3v1h-3zM275 274h3v1h-3zM281 274h3v1h-3zM287 274h3v1h-3zM293 274h3v1h-3zM299 274h3v1h-3zM305 274h3v1h-3zM311 274h3v1h-3zM317 274h3v1h-3zM323 274h3v1h-3zM329 274h3v1h-3zM335 274h3v1h-3zM341 274h3v1h-3zM347 274h3v1h-3zM353 274h3v1h-3zM359 274h3v1h-3zM365 274h3v1h-3zM371 274h3v1h-3zM377 274h3v1h-3zM383 274h3v1h-3zM389 274h3v1h-3zM395 274h3v1h-3zM401 274h3v1h-3zM407 274h3v1h-3zM413 274h3v1h-3zM419 274h3v1h-3zM425 274h3v1h-3zM431 274h3v1h-3zM437 274h8v1h-8zM53 275h1v40h-1zM77 275h12v10h-12zM110 275h9v1h-9zM138 275h13v2h-13zM444 275h1v25h-1zM109 276h11v1h-11zM174 276h1v3h-1zM204 276h1v3h-1zM234 276h1v3h-1zM264 276h1v3h-1zM294 276h1v3h-1zM324 276h1v3h-1zM354 276h1v3h-1zM384 276h1v3h-1zM414 276h1v3h-1zM108 277h13v2h-13zM139 277h11v3h-11zM107 279h15v1h-15zM108 280h13v2h-13zM142 280h5v1h-5zM109 282h11v1h-11zM144 282h1v3h-1zM174 282h1v3h-1zM204 282h1v3h-1zM234 282h1v3h-1zM264 282h1v3h-1zM294 282h1v3h-1zM324 282h1v3h-1zM354 282h1v3h-1zM384 282h1v3h-1zM414 282h1v3h-1zM110 283h10v1h-10zM109 284h11v1h-11zM82 285h3v1h-3zM108 285h13v2h-13zM81 286h5v1h-5zM80 287h7v1h-7zM107 287h14v1h-14zM79 288h9v1h-9zM108 288h13v2h-13zM144 288h1v3h-1zM174 288h1v3h-1zM204 288h1v3h-1zM234 288h1v3h-1zM264 288h1v3h-1zM294 288h1v3h-1zM324 288h1v3h-1zM354 288h1v3h-1zM384 288h1v3h-1zM414 288h1v3h-1zM78 289h11v1h-11zM77 290h13v2h-13zM109 290h11v3h-11zM76 292h15v1h-15zM77 293h13v2h-13zM112 293h5v1h-5zM114 294h1v3h-1zM144 294h1v3h-1zM174 294h1v3h-1zM204 294h1v3h-1zM234 294h1v3h-1zM264 294h1v3h-1zM294 294h1v3h-1zM324 294h1v3h-1zM354 294h1v3h-1zM384 294h1v3h-1zM414 294h1v3h-1zM78 295h11v1h-11zM79 296h10v1h-10zM78 297h11v1h-11zM77 298h13v2h-13zM59 300h3v1h-3zM72 300h2v1h-2zM76 300h16v1h-16zM95 300h3v1h-3zM101 300h3v1h-3zM107 300h3v1h-3zM113 300h3v1h-3zM119 300h3v1h-3zM125 300h3v1h-3zM131 300h3v1h-3zM137 300h3v1h-3zM143 300h3v1h-3zM149 300h3v1h-3zM155 300h3v1h-3zM161 300h3v1h-3zM167 300h3v1h-3zM173 300h3v1h-3zM179 300h3v1h-3zM185 300h3v1h-3zM191 300h3v1h-3zM197 300h3v1h-3zM203 300h3v1h-3zM209 300h3v1h-3zM215 300h3v1h-3zM221 300h3v1h-3zM227 300h3v1h-3zM233 300h3v1h-3zM239 300h3v1h-3zM245 300h3v1h-3zM251 300h3v1h-3zM257 300h3v1h-3zM263 300h3v1h-3zM269 300h3v1h-3zM275 300h3v1h-3zM281 300h3v1h-3zM287 300h3v1h-3zM293 300h3v1h-3zM299 300h3v1h-3zM305 300h3v1h-3zM311 300h3v1h-3zM317 300h3v1h-3zM323 300h3v1h-3zM329 300h3v1h-3zM335 300h3v1h-3zM341 300h3v1h-3zM347 300h3v1h-3zM353 300h3v1h-3zM359 300h3v1h-3zM365 300h3v1h-3zM371 300h3v1h-3zM377 300h3v1h-3zM383 300h3v1h-3zM389 300h3v1h-3zM395 300h3v1h-3zM401 300h3v1h-3zM407 300h3v1h-3zM413 300h3v1h-3zM419 300h3v1h-3zM425 300h3v1h-3zM431 300h3v1h-3zM437 300h8v1h-8zM77 301h13v2h-13zM114 301h1v2h-1zM144 301h1v2h-1zM174 301h1v2h-1zM204 301h1v2h-1zM234 301h1v2h-1zM264 301h1v2h-1zM294 301h1v2h-1zM324 301h1v2h-1zM354 301h1v2h-1zM384 301h1v2h-1zM414 301h1v2h-1zM444 301h1v13h-1zM78 303h11v3h-11zM81 306h5v1h-5zM114 306h1v3h-1zM144 306h1v3h-1zM174 306h1v3h-1zM204 306h1v3h-1zM234 306h1v3h-1zM264 306h1v3h-1zM294 306h1v3h-1zM324 306h1v3h-1zM354 306h1v3h-1zM384 306h1v3h-1zM414 306h1v3h-1zM83 307h1v2h-1zM83 310h1v4h-1zM114 310h1v4h-1zM144 310h1v4h-1zM174 310h1v4h-1zM204 310h1v4h-1zM234 310h1v4h-1zM264 310h1v4h-1zM294 310h1v4h-1zM324 310h1v4h-1zM354 310h1v4h-1zM384 310h1v4h-1zM414 310h1v4h-1zM60 314h385v1h-385z"/>
<path fill="#f00" d="M81 34h15v4h-15zM106 34h15v2h-15zM107 36h14v1h-14zM106 37h15v1h-15zM245 232h14v1h-14zM269 232h20v2h-20zM299 232h20v2h-20zM329 232h20v2h-20zM359 232h20v2h-20zM389 232h20v2h-20zM419 232h20v2h-20zM242 233h17v1h-17zM241 234h18v2h-18zM270 234h19v1h-19zM300 234h19v1h-19zM330 234h19v1h-19zM360 234h19v1h-19zM390 234h19v1h-19zM420 234h19v1h-19zM269 235h20v1h-20zM299 235h20v1h-20zM329 235h20v1h-20zM359 235h20v1h-20zM389 235h20v1h-20zM419 235h20v1h-20z"/>
<path fill="#f0f" d="M81 56h14v2h-14zM108 56h13v4h-13zM81 58h13v1h-13zM81 59h14v1h-14zM301 206h17v2h-17zM331 206h17v2h-17zM361 206h17v2h-17zM391 206h17v2h-17zM421 206h17v2h-17zM301 208h16v1h-16zM331 208h16v1h-16zM361 208h16v1h-16zM391 208h16v1h-16zM421 208h16v1h-16zM287 209h1v1h-1zM301 209h17v1h-17zM331 209h17v1h-17zM361 209h17v1h-17zM391 209h17v1h-17zM421 209h17v1h-17zM284 210h4v1h-4zM282 211h7v1h-7zM280 212h9v1h-9zM277 213h12v1h-12zM275 214h11v1h-11zM273 215h11v1h-11zM270 216h12v1h-12zM270 217h9v1h-9zM270 218h7v1h-7zM271 219h4v1h-4zM271 220h1v1h-1zM257 222h1v1h-1zM254 223h4v1h-4zM252 224h7v1h-7zM250 225h9v1h-9zM247 226h12v1h-12zM245 227h11v1h-11zM243 228h11v1h-11zM241 229h11v1h-11zM240 230h9v1h-9zM240 231h7v1h-7zM241 232h4v1h-4zM241 233h1v1h-1zM227 235h1v1h-1zM225 236h3v1h-3zM223 237h6v1h-6zM221 238h8v1h-8zM218 239h11v1h-11zM216 240h11v1h-11zM214 241h11v1h-11zM212 242h11v1h-11zM210 243h10v1h-10zM210 244h8v1h-8zM210 245h6v1h-6zM211 246h3v1h-3zM211 247h1v1h-1zM197 249h1v1h-1zM194 250h4v1h-4zM192 251h7v1h-7zM190 252h9v1h-9zM187 253h12v1h-12zM185 254h11v1h-11zM183 255h11v1h-11zM182 256h10v1h-10zM181 257h8v1h-8zM181 258h6v1h-6zM181 259h4v1h-4zM181 260h1v1h-1zM167 262h1v1h-1zM164 263h4v1h-4zM162 264h7v1h-7zM160 265h9v1h-9zM157 266h12v1h-12zM155 267h11v1h-11zM153 268h11v1h-11zM150 269h12v1h-12zM150 270h9v1h-9zM150 271h7v1h-7zM151 272h4v1h-4zM151 273h1v1h-1zM137 275h1v1h-1zM134 276h4v1h-4zM132 277h7v1h-7zM130 278h9v1h-9zM127 279h12v1h-12zM125 280h11v1h-11zM123 281h11v1h-11zM120 282h12v1h-12zM120 283h9v1h-9zM120 284h7v1h-7zM121 285h4v1h-4zM121 286h1v1h-1zM106 288h2v1h-2zM104 289h4v1h-4zM102 290h7v1h-7zM99 291h10v1h-10zM97 292h11v1h-11zM94 293h12v1h-12zM92 294h12v1h-12zM90 295h11v1h-11zM89 296h10v1h-10zM89 297h7v1h-7zM90 298h4v1h-4zM90 299h2v1h-2zM76 301h1v1h-1zM74 302h3v1h-3zM72 303h6v1h-6zM70 304h8v1h-8zM68 305h10v1h-10zM66 306h10v1h-10zM64 307h10v1h-10zM62 308h10v1h-10zM60 309h10v1h-10zM58 310h10v1h-10zM56 311h10v1h-10zM54 312h10v1h-10zM54 313h8v1h-8zM54 314h6v1h-6z"/>
<path fill="#0ff" d="M81 77h14v2h-14zM108 77h13v2h-13zM81 79h13v1h-13zM109 79h12v1h-12zM81 80h14v1h-14zM108 80h13v1h-13zM391 140h17v2h-17zM421 140h17v2h-17zM392 142h15v1h-15zM422 142h15v1h-15zM377 143h1v1h-1zM391 143h17v1h-17zM421 143h17v1h-17zM374 144h4v1h-4zM372 145h7v1h-7zM370 146h10v1h-10zM367 147h12v1h-12zM365 148h11v1h-11zM363 149h11v1h-11zM360 150h12v1h-12zM359 151h10v1h-10zM360 152h7v1h-7zM361 153h4v1h-4zM361 154h1v1h-1zM347 156h1v1h-1zM345 157h3v1h-3zM343 158h6v1h-6zM341 159h9v1h-9zM338 160h11v1h-11zM336 161h11v1h-11zM334 162h11v1h-11zM332 163h11v1h-11zM330 164h10v1h-10zM329 165h9v1h-9zM330 166h6v1h-6zM331 167h3v1h-3zM331 168h1v1h-1zM318 172h1v1h-1zM317 173h3v1h-3zM315 174h6v1h-6zM314 175h6v1h-6zM313 176h6v1h-6zM312 177h5v1h-5zM311 178h5v1h-5zM310 179h5v1h-5zM308 180h6v1h-6zM307 181h6v1h-6zM306 182h6v1h-6zM305 183h5v1h-5zM304 184h5v1h-5zM303 185h5v1h-5zM302 186h5v1h-5zM300 187h6v1h-6zM299 188h6v1h-6zM298 189h6v1h-6zM298 190h4v1h-4zM299 191h2v1h-2zM287 196h1v1h-1zM284 197h4v1h-4zM282 198h7v1h-7zM280 199h10v1h-10zM277 200h12v1h-12zM275 201h11v1h-11zM273 202h11v1h-11zM270 203h12v1h-12zM269 204h10v1h-10zM270 205h7v1h-7zM271 206h4v1h-4zM271 207h1v1h-1zM257 210h1v1h-1zM256 211h3v1h-3zM254 212h6v1h-6zM252 213h7v1h-7zM251 214h7v1h-7zM249 215h7v1h-7zM248 216h6v1h-6zM246 217h7v1h-7zM245 218h6v1h-6zM243 219h7v1h-7zM241 220h7v1h-7zM240 221h7v1h-7zM238 222h7v1h-7zM239 223h4v1h-4zM240 224h2v1h-2zM227 228h1v1h-1zM224 229h4v1h-4zM222 230h7v1h-7zM220 231h10v1h-10zM217 232h12v1h-12zM215 233h11v1h-11zM213 234h11v1h-11zM210 235h12v1h-12zM209 236h10v1h-10zM210 237h7v1h-7zM211 238h4v1h-4zM211 239h1v1h-1zM196 242h2v1h-2zM194 243h5v1h-5zM192 244h8v1h-8zM190 245h10v1h-10zM188 246h10v1h-10zM187 247h9v1h-9zM185 248h9v1h-9zM183 249h9v1h-9zM181 250h9v1h-9zM179 251h10v1h-10zM179 252h8v1h-8zM180 253h5v1h-5zM181 254h2v1h-2zM164 257h4v1h-4zM161 258h7v1h-7zM158 259h11v1h-11zM155 260h14v1h-14zM152 261h14v1h-14zM149 262h14v1h-14zM150 263h10v1h-10zM151 264h6v1h-6zM151 265h3v1h-3zM137 267h1v1h-1zM134 268h4v1h-4zM132 269h7v1h-7zM130 270h10v1h-10zM127 271h12v1h-12zM125 272h11v1h-11zM123 273h11v1h-11zM120 274h12v1h-12zM119 275h10v1h-10zM120 276h7v1h-7zM121 277h4v1h-4zM121 278h1v1h-1zM106 280h2v1h-2zM104 281h4v1h-4zM102 282h7v1h-7zM99 283h11v1h-11zM97 284h11v1h-11zM94 285h12v1h-12zM92 286h12v1h-12zM90 287h11v1h-11zM88 288h11v1h-11zM89 289h7v1h-7zM90 290h4v1h-4zM90 291h2v1h-2zM76 293h1v1h-1zM74 294h3v1h-3zM72 295h6v1h-6zM70 296h9v1h-9zM68 297h10v1h-10zM66 298h10v1h-10zM64 299h10v1h-10zM62 300h10v1h-10zM60 301h10v1h-10zM58 302h10v1h-10zM56 303h10v1h-10zM54 304h10v1h-10zM54 305h8v1h-8zM54 306h6v1h-6zM55 307h3v1h-3z"/>
<path fill="#0f0" d="M437 15h1v1h-1zM435 16h3v1h-3zM434 17h6v1h-6zM433 18h6v1h-6zM432 19h5v1h-5zM431 20h5v1h-5zM430 21h5v1h-5zM428 22h6v1h-6zM427 23h6v1h-6zM426 24h6v1h-6zM425 25h5v1h-5zM424 26h5v1h-5zM423 27h5v1h-5zM422 28h5v1h-5zM420 29h6v1h-6zM419 30h6v1h-6zM420 31h4v1h-4zM420 32h2v1h-2zM420 33h1v1h-1zM407 43h6v1h-6zM406 44h6v1h-6zM406 45h5v1h-5zM405 46h5v1h-5zM404 47h6v1h-6zM403 48h6v1h-6zM403 49h5v1h-5zM402 50h5v1h-5zM401 51h5v1h-5zM400 52h6v1h-6zM399 53h6v1h-6zM399 54h5v1h-5zM398 55h5v1h-5zM397 56h6v1h-6zM396 57h6v1h-6zM396 58h5v1h-5zM395 59h5v1h-5zM394 60h6v1h-6zM393 61h6v1h-6zM393 62h5v1h-5zM392 63h5v1h-5zM391 64h5v1h-5zM390 65h6v1h-6zM389 66h6v1h-6zM389 67h5v1h-5zM388 68h5v1h-5zM387 69h6v1h-6zM390 70h2v1h-2zM390 71h1v1h-1zM377 80h1v1h-1zM376 81h2v1h-2zM375 82h5v1h-5zM373 83h6v1h-6zM372 84h6v1h-6zM371 85h6v1h-6zM370 86h5v1h-5zM369 87h5v1h-5zM368 88h5v1h-5zM367 89h5v1h-5zM366 90h5v1h-5zM365 91h5v1h-5zM363 92h6v1h-6zM362 93h6v1h-6zM361 94h6v1h-6zM360 95h5v1h-5zM359 96h5v1h-5zM360 97h3v1h-3zM360 98h2v1h-2zM81 99h14v4h-14zM107 99h14v4h-14zM360 99h1v1h-1zM347 107h1v1h-1zM345 108h3v1h-3zM344 109h6v1h-6zM343 110h6v1h-6zM342 111h5v1h-5zM341 112h5v1h-5zM340 113h5v1h-5zM338 114h6v1h-6zM337 115h6v1h-6zM336 116h6v1h-6zM335 117h5v1h-5zM334 118h5v1h-5zM333 119h5v1h-5zM332 120h5v1h-5zM330 121h6v1h-6zM329 122h6v1h-6zM330 123h4v1h-4zM330 124h2v1h-2zM330 125h1v1h-1zM317 133h1v1h-1zM315 134h3v1h-3zM314 135h6v1h-6zM313 136h6v1h-6zM312 137h5v1h-5zM311 138h5v1h-5zM310 139h5v1h-5zM308 140h6v1h-6zM307 141h6v1h-6zM306 142h6v1h-6zM305 143h5v1h-5zM304 144h5v1h-5zM303 145h5v1h-5zM302 146h5v1h-5zM300 147h6v1h-6zM299 148h6v1h-6zM300 149h4v1h-4zM300 150h2v1h-2zM300 151h1v1h-1zM287 159h1v1h-1zM286 160h2v1h-2zM285 161h5v1h-5zM283 162h6v1h-6zM282 163h6v1h-6zM281 164h6v1h-6zM280 165h5v1h-5zM279 166h5v1h-5zM278 167h5v1h-5zM277 168h5v1h-5zM276 169h5v1h-5zM275 170h5v1h-5zM273 171h6v1h-6zM272 172h6v1h-6zM271 173h6v1h-6zM270 174h5v1h-5zM269 175h5v1h-5zM270 176h3v1h-3zM270 177h2v1h-2zM270 178h1v1h-1zM257 183h1v1h-1zM254 184h4v1h-4zM252 185h6v1h-6zM250 186h8v1h-8zM247 187h11v1h-11zM245 188h11v1h-11zM243 189h11v1h-11zM240 190h12v1h-12zM240 191h9v1h-9zM240 192h7v1h-7zM240 193h5v1h-5zM240 194h2v1h-2zM227 200h1v1h-1zM226 201h6v1h-6zM225 202h6v1h-6zM224 203h6v1h-6zM223 204h6v1h-6zM222 205h6v1h-6zM221 206h6v1h-6zM220 207h6v1h-6zM219 208h6v1h-6zM218 209h6v1h-6zM218 210h5v1h-5zM217 211h5v1h-5zM216 212h5v1h-5zM215 213h6v1h-6zM214 214h6v1h-6zM213 215h6v1h-6zM212 216h6v1h-6zM211 217h6v1h-6zM210 218h6v1h-6zM209 219h6v1h-6zM208 220h6v1h-6zM210 221h3v1h-3zM210 222h2v1h-2zM210 223h1v1h-1zM197 228h1v1h-1zM195 229h3v1h-3zM193 230h5v1h-5zM191 231h7v1h-7zM189 232h9v1h-9zM187 233h10v1h-10zM185 234h10v1h-10zM183 235h10v1h-10zM181 236h10v1h-10zM180 237h9v1h-9zM180 238h7v1h-7zM180 239h5v1h-5zM180 240h3v1h-3zM180 241h1v1h-1zM165 243h3v1h-3zM163 244h5v1h-5zM160 245h8v1h-8zM157 246h11v1h-11zM154 247h13v1h-13zM152 248h13v1h-13zM150 249h12v1h-12zM150 250h9v1h-9zM150 251h6v1h-6zM150 252h4v1h-4zM150 253h1v1h-1zM137 254h1v1h-1zM134 255h4v1h-4zM132 256h6v1h-6zM130 257h8v1h-8zM127 258h11v1h-11zM125 259h11v1h-11zM123 260h11v1h-11zM120 261h12v1h-12zM120 262h9v1h-9zM120 263h7v1h-7zM120 264h5v1h-5zM120 265h2v1h-2zM106 267h2v1h-2zM104 268h4v1h-4zM102 269h6v1h-6zM99 270h9v1h-9zM97 271h11v1h-11zM94 272h12v1h-12zM92 273h12v1h-12zM90 274h11v1h-11zM89 275h10v1h-10zM89 276h7v1h-7zM89 277h5v1h-5zM89 278h3v1h-3zM76 282h1v1h-1zM74 283h3v1h-3zM73 284h4v1h-4zM72 285h6v1h-6zM70 286h6v1h-6zM69 287h6v1h-6zM68 288h6v1h-6zM66 289h6v1h-6zM65 290h6v1h-6zM64 291h6v1h-6zM62 292h6v1h-6zM61 293h6v1h-6zM60 294h6v1h-6zM58 295h6v1h-6zM57 296h6v1h-6zM56 297h6v1h-6zM54 298h6v1h-6zM54 299h5v1h-5zM54 300h4v1h-4zM55 301h1v1h-1z"/>
</g>
<g>
<text transform="translate(229.20 1526.90) scale(0.9050 1)" x="2.98" y="0" font-family="'Liberation Sans', Arial, Helvetica, sans-serif" font-size="65.00" xml:space="preserve">1</text>
<text transform="translate(367.22 1526.90) scale(0.9050 1)" x="-0.66" y="0" font-family="'Liberation Sans', Arial, Helvetica, sans-serif" font-size="65.00" xml:space="preserve">2</text>
<text transform="translate(509.85 1526.90) scale(0.9050 1)" x="-0.66" y="0" font-family="'Liberation Sans', Arial, Helvetica, sans-serif" font-size="65.00" xml:space="preserve">3</text>
<text transform="translate(647.87 1526.90) scale(0.9050 1)" x="-0.66" y="0" font-family="'Liberation Sans', Arial, Helvetica, sans-serif" font-size="65.00" xml:space="preserve">4</text>
<text transform="translate(785.90 1526.90) scale(0.9050 1)" x="-0.66" y="0" font-family="'Liberation Sans', Arial, Helvetica, sans-serif" font-size="65.00" xml:space="preserve">5</text>
<text transform="translate(923.92 1526.90) scale(0.9050 1)" x="-0.66" y="0" font-family="'Liberation Sans', Arial, Helvetica, sans-serif" font-size="65.00" xml:space="preserve">6</text>
<text transform="translate(1061.94 1526.90) scale(0.9050 1)" x="-0.66" y="0" font-family="'Liberation Sans', Arial, Helvetica, sans-serif" font-size="65.00" xml:space="preserve">7</text>
<text transform="translate(1199.97 1526.90) scale(0.9050 1)" x="-0.66" y="0" font-family="'Liberation Sans', Arial, Helvetica, sans-serif" font-size="65.00" xml:space="preserve">8</text>
<text transform="translate(1337.99 1526.90) scale(0.9050 1)" x="-0.66" y="0" font-family="'Liberation Sans', Arial, Helvetica, sans-serif" font-size="65.00" xml:space="preserve">9</text>
<text transform="translate(1457.61 1526.90) scale(0.9050 1)" x="2.98 34.92" y="0" font-family="'Liberation Sans', Arial, Helvetica, sans-serif" font-size="65.00" xml:space="preserve">10</text>
<text transform="translate(1595.64 1526.90) scale(0.9050 1)" x="2.98 38.57" y="0" font-family="'Liberation Sans', Arial, Helvetica, sans-serif" font-size="65.00" xml:space="preserve">11</text>
<text transform="translate(1733.66 1526.90) scale(0.9050 1)" x="2.98 34.92" y="0" font-family="'Liberation Sans', Arial, Helvetica, sans-serif" font-size="65.00" xml:space="preserve">12</text>
<text transform="translate(1871.69 1526.90) scale(0.9050 1)" x="2.98 34.92" y="0" font-family="'Liberation Sans', Arial, Helvetica, sans-serif" font-size="65.00" xml:space="preserve">13</text>
<text transform="translate(2009.71 1526.90) scale(0.9050 1)" x="2.98 34.92" y="0" font-family="'Liberation Sans', Arial, Helvetica, sans-serif" font-size="65.00" xml:space="preserve">14</text>
<text transform="translate(164.79 1411.22) scale(0.9050 1)" x="2.98 34.92" y="0" font-family="'Liberation Sans', Arial, Helvetica, sans-serif" font-size="65.00" xml:space="preserve">10</text>
<text transform="translate(164.79 1290.92) scale(0.9050 1)" x="-0.66 34.92" y="0" font-family="'Liberation Sans', Arial, Helvetica, sans-serif" font-size="65.00" xml:space="preserve">20</text>
<text transform="translate(164.79 1170.62) scale(0.9050 1)" x="-0.66 34.92" y="0" font-family="'Liberation Sans', Arial, Helvetica, sans-serif" font-size="65.00" xml:space="preserve">30</text>
<text transform="translate(164.79 1045.69) scale(0.9050 1)" x="-0.66 34.92" y="0" font-family="'Liberation Sans', Arial, Helvetica, sans-serif" font-size="65.00" xml:space="preserve">40</text>
<text transform="translate(164.79 925.39) scale(0.9050 1)" x="-0.66 34.92" y="0" font-family="'Liberation Sans', Arial, Helvetica, sans-serif" font-size="65.00" xml:space="preserve">50</text>
<text transform="translate(164.79 805.09) scale(0.9050 1)" x="-0.66 34.92" y="0" font-family="'Liberation Sans', Arial, Helvetica, sans-serif" font-size="65.00" xml:space="preserve">60</text>
<text transform="translate(164.79 680.16) scale(0.9050 1)" x="-0.66 34.92" y="0" font-family="'Liberation Sans', Arial, Helvetica, sans-serif" font-size="65.00" xml:space="preserve">70</text>
<text transform="translate(164.79 559.86) scale(0.9050 1)" x="-0.66 34.92" y="0" font-family="'Liberation Sans', Arial, Helvetica, sans-serif" font-size="65.00" xml:space="preserve">80</text>
<text transform="translate(164.79 439.56) scale(0.9050 1)" x="-0.66 34.92" y="0" font-family="'Liberation Sans', Arial, Helvetica, sans-serif" font-size="65.00" xml:space="preserve">90</text>
<text transform="translate(132.58 314.63) scale(0.9050 1)" x="2.98 34.92 70.51" y="0" font-family="'Liberation Sans', Arial, Helvetica, sans-serif" font-size="65.00" xml:space="preserve">100</text>
<text transform="translate(132.58 194.32) scale(0.9050 1)" x="2.98 38.57 70.51" y="0" font-family="'Liberation Sans', Arial, Helvetica, sans-serif" font-size="65.00" xml:space="preserve">110</text>
<text transform="translate(132.58 74.02) scale(0.9050 1)" x="2.98 34.92 70.51" y="0" font-family="'Liberation Sans', Arial, Helvetica, sans-serif" font-size="65.00" xml:space="preserve">120</text>
<text transform="translate(569.66 194.62) scale(1.0400 1)" x="0.81 25.58 69.82 114.06 158.30 175.99 215.81 255.62 295.44 313.13 352.95 392.76 410.46" y="0" font-family="'Liberation Serif', 'Times New Roman', Times, serif" font-size="78.00" xml:space="preserve">IEEE 802.15.4</text>
<text transform="translate(569.66 296.42) scale(1.0400 1)" x="0.81 44.16 87.52 136.18 189.26 214.04 283.49 331.71" y="0" font-family="'Liberation Serif', 'Times New Roman', Times, serif" font-size="78.00" xml:space="preserve">LTDA-MAC</text>
<text transform="translate(569.66 402.84) scale(1.0400 1)" x="1.69 45.05 88.84 140.60 165.38 232.62 282.16" y="0" font-family="'Liberation Serif', 'Times New Roman', Times, serif" font-size="78.00" xml:space="preserve">PLA-MAC</text>
<text transform="translate(569.66 504.63) scale(1.0400 1)" x="0.37 43.28 69.82 101.67 138.83 175.11 220.23 245.45 311.36 362.68" y="0" font-family="'Liberation Serif', 'Times New Roman', Times, serif" font-size="78.00" xml:space="preserve">TraySL-MAC</text>
<text transform="translate(859.51 1619.74) scale(1.0400 1)" x="-0.96 53.45 91.94 149.45 187.05 220.23 246.77 264.47 304.28 330.83 347.64 395.42 464.87 505.13" y="0" font-family="'Liberation Serif', 'Times New Roman', Times, serif" font-size="78.00" xml:space="preserve">Number of BMSs</text>
<text transform="translate(86.58 1189.43) rotate(-90) scale(0.9800 1)" x="-0.51 56.15 103.36 131.69 178.90 226.12 273.33 320.55 367.76 414.98 438.58 466.91 514.13 551.90 589.67 636.88 674.65 698.26 731.31 754.92 787.97 825.74 863.51" y="0" font-family="'Liberation Serif', 'Times New Roman', Times, serif" font-size="91.00" xml:space="preserve">Throughput(packets/sec)</text>
</g>
<g shape-rendering="crispEdges">
<rect x="235.38" y="1521.34" width="11.31" height="6.26" fill="#fff"/>
<rect x="251.89" y="1521.34" width="10.85" height="6.26" fill="#fff"/>
<rect x="1463.79" y="1521.34" width="11.31" height="6.26" fill="#fff"/>
<rect x="1480.30" y="1521.34" width="10.85" height="6.26" fill="#fff"/>
<rect x="1601.82" y="1521.34" width="11.31" height="6.26" fill="#fff"/>
<rect x="1618.33" y="1521.34" width="10.85" height="6.26" fill="#fff"/>
<rect x="1634.02" y="1521.34" width="11.31" height="6.26" fill="#fff"/>
<rect x="1650.53" y="1521.34" width="10.85" height="6.26" fill="#fff"/>
<rect x="1739.84" y="1521.34" width="11.31" height="6.26" fill="#fff"/>
<rect x="1756.35" y="1521.34" width="10.85" height="6.26" fill="#fff"/>
<rect x="1877.87" y="1521.34" width="11.31" height="6.26" fill="#fff"/>
<rect x="1894.38" y="1521.34" width="10.85" height="6.26" fill="#fff"/>
<rect x="2015.89" y="1521.34" width="11.31" height="6.26" fill="#fff"/>
<rect x="2032.40" y="1521.34" width="10.85" height="6.26" fill="#fff"/>
<rect x="170.97" y="1405.67" width="11.31" height="6.26" fill="#fff"/>
<rect x="187.48" y="1405.67" width="10.85" height="6.26" fill="#fff"/>
<rect x="138.76" y="309.07" width="11.31" height="6.26" fill="#fff"/>
<rect x="155.27" y="309.07" width="10.85" height="6.26" fill="#fff"/>
<rect x="138.76" y="188.77" width="11.31" height="6.26" fill="#fff"/>
<rect x="155.27" y="188.77" width="10.85" height="6.26" fill="#fff"/>
<rect x="170.97" y="188.77" width="11.31" height="6.26" fill="#fff"/>
<rect x="187.48" y="188.77" width="10.85" height="6.26" fill="#fff"/>
<rect x="138.76" y="68.47" width="11.31" height="6.26" fill="#fff"/>
<rect x="155.27" y="68.47" width="10.85" height="6.26" fill="#fff"/>
</g>
</svg>
</body>
</html>
